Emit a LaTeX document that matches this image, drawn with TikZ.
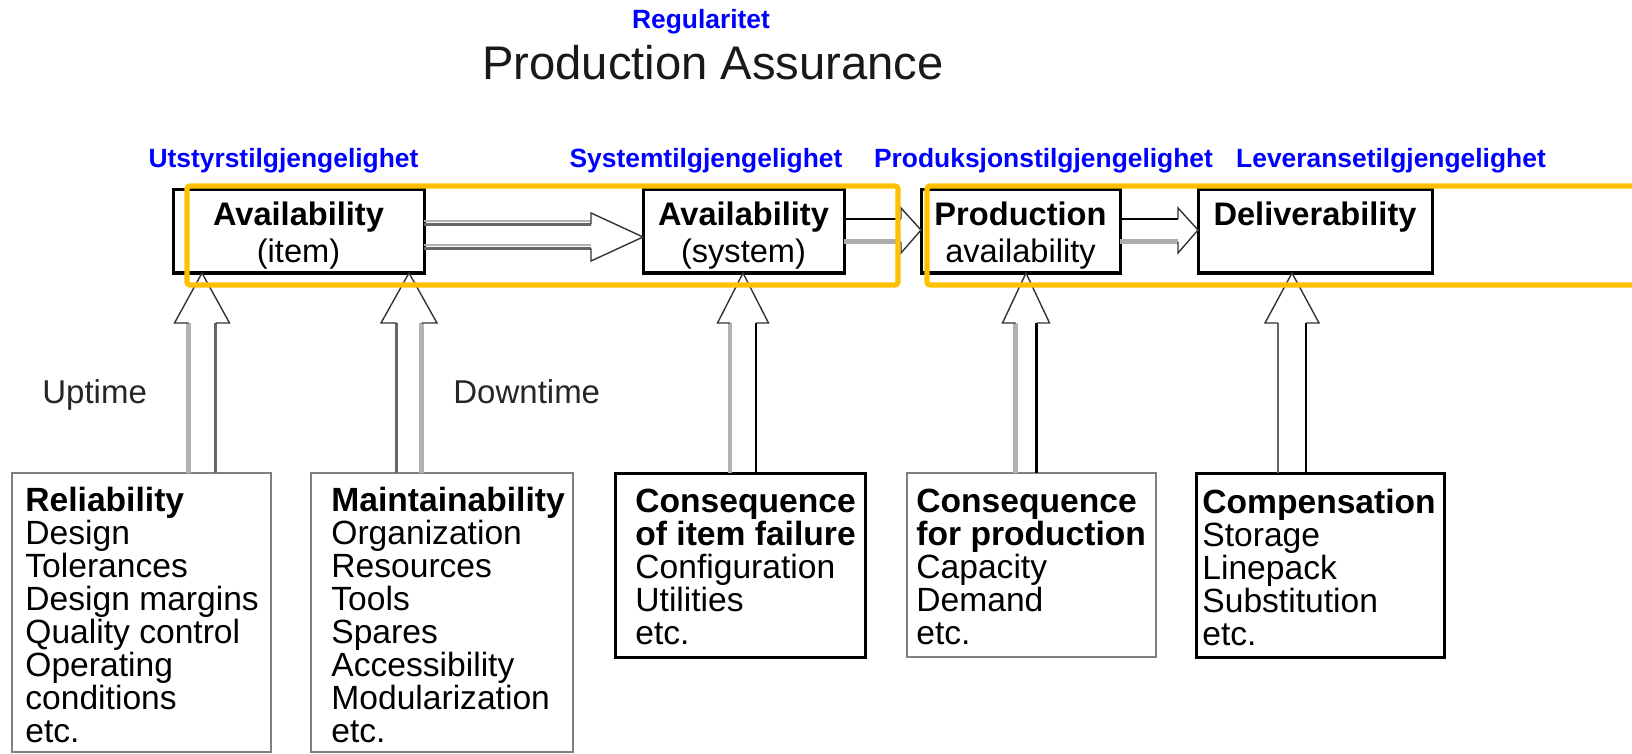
\documentclass[tikz,border=0pt]{standalone}
\usepackage{fontspec}
\setmainfont{Liberation Sans}
\usetikzlibrary{calc}
\definecolor{orng}{HTML}{FFC000}
\definecolor{lblue}{HTML}{0000FF}
\newcommand\topstrut{\rule{0pt}{16pt}}
\newcommand\hollowup[7]{%
  \coordinate (hx) at (#3,0);
  \coordinate (hb) at (#1.north -| hx);
  \coordinate (ht) at (#2.south -| hx);
  \draw[#6] ($(hb)+(-#4,0)$) -- ($(ht)+(-#4,50)$);
  \draw[#7] ($(hb)+(#4,0)$) -- ($(ht)+(#4,50)$);
  \draw[headline] ($(ht)+(-#4,50)$) -- ($(ht)+(-#5,50)$) -- (ht) -- ($(ht)+(#5,50)$) -- ($(ht)+(#4,50)$);
}
\begin{document}
\begin{tikzpicture}[x=0.5pt,y=-0.5pt,
  topbox/.style={draw=black,line width=1.5pt,inner sep=0pt,outer sep=0pt,anchor=north west,
    minimum height=41.5pt,align=center,
    font=\fontsize{16.3pt}{18.5pt}\selectfont},
  blackbox/.style={draw=black,line width=1.5pt,inner sep=0pt,outer sep=0pt,anchor=north west},
  graybox/.style={draw=black!50,line width=1.2pt,inner sep=0pt,outer sep=0pt,anchor=north west},
  listtxt/.style={inner sep=0pt,anchor=west,align=left,font=\fontsize{16.8pt}{16.5pt}\selectfont},
  bluelbl/.style={inner sep=0pt,anchor=base,text=lblue,font=\fontsize{13.2pt}{15pt}\selectfont\bfseries},
  sidelbl/.style={inner sep=0pt,anchor=base west,text=black!85,font=\fontsize{16.5pt}{18pt}\selectfont},
  headline/.style={draw=black!80,line width=0.7pt,line join=miter},
  lightline/.style={draw=black!30,line width=2.4pt},
  darkline/.style={draw=black!60,line width=1.4pt},
  blackline/.style={draw=black,line width=1.2pt},
  grayband/.style={draw=black!32,line width=2.5pt},
  orangebox/.style={draw=orng,line width=2.6pt,rounded corners=1.5pt}
]
\useasboundingbox (0,0) rectangle (1632,754);

% titles
\node[bluelbl] (reg) at (701,29) {Regularitet};
\node[inner sep=0pt,anchor=base,text=black!90,font=\fontsize{23.6pt}{26pt}\selectfont] (pas) at (713,80) {Production Assurance};
\node[bluelbl] (lu) at (283.5,168) {Utstyrstilgjengelighet};
\node[bluelbl] (ls) at (706,168) {Systemtilgjengelighet};
\node[bluelbl] (lp) at (1043.5,168) {Produksjonstilgjengelighet};
\node[bluelbl] (ll) at (1391,168) {Leveransetilgjengelighet};

% top boxes
\node[topbox,minimum width=125.5pt] (av1) at (173,190) {\topstrut\textbf{Availability}\\(item)};
\node[topbox,minimum width=100.5pt] (av2) at (643,190) {\topstrut\textbf{Availability}\\(system)};
\node[topbox,minimum width=99.5pt] (pa) at (921,190) {\topstrut\textbf{Production}\\availability};
\node[topbox,minimum width=117pt] (del) at (1198,190) {\topstrut\textbf{Deliverability}\\\vphantom{(y)}};

% bottom boxes
\node[graybox,minimum width=129.5pt,minimum height=139.5pt] (rel) at (12,473) {};
\node[graybox,minimum width=131pt,minimum height=139.5pt] (mnt) at (311,473) {};
\node[blackbox,minimum width=125pt,minimum height=92pt] (cif) at (615,473) {};
\node[graybox,minimum width=124.5pt,minimum height=92pt] (cfp) at (907,473) {};
\node[blackbox,minimum width=124pt,minimum height=92pt] (cmp) at (1196,473) {};

\node[listtxt] (reltxt) at ($(rel.west)+(13,2)$) {\textbf{Reliability}\\Design\\Tolerances\\Design margins\\Quality control\\Operating\\conditions\\etc.};
\node[listtxt] (mnttxt) at ($(mnt.west)+(20,2)$) {\textbf{Maintainability}\\Organization\\Resources\\Tools\\Spares\\Accessibility\\Modularization\\etc.};
\node[listtxt] (ciftxt) at ($(cif.west)+(20,2)$) {\textbf{Consequence}\\\textbf{of item failure}\\Configuration\\Utilities\\etc.};
\node[listtxt] (cfptxt) at ($(cfp.west)+(9,2)$) {\textbf{Consequence}\\\textbf{for production}\\Capacity\\Demand\\etc.};
\node[listtxt] (cmptxt) at ($(cmp.west)+(6,2)$) {\textbf{Compensation}\\Storage\\Linepack\\Substitution\\etc.};

% side labels
\node[sidelbl] (up) at (42,403) {Uptime};
\node[sidelbl] (down) at (453,403) {Downtime};

% vertical hollow arrows
\hollowup{rel}{av1}{202}{13.5}{27.5}{lightline}{darkline}
\hollowup{mnt}{av1}{409}{12.5}{28}{darkline}{lightline}
\hollowup{cif}{av2}{743}{13}{25.5}{lightline}{blackline}
\hollowup{cfp}{pa}{1026}{10.5}{23.5}{lightline}{blackline}
\hollowup{cmp}{del}{1292}{14}{27}{darkline}{blackline}

% horizontal arrow av1 -> av2
\coordinate (y1) at (0,237);
\coordinate (t1) at (av2.west |- y1);
\draw[lightline,line width=1.2pt] (av1.east |- 0,221) -- ($(t1)+(-52,-16)$);
\draw[darkline] (av1.east |- 0,224.5) -- ($(t1)+(-52,-12.5)$);
\draw[lightline,line width=1.2pt] (av1.east |- 0,245) -- ($(t1)+(-52,8)$);
\draw[darkline] (av1.east |- 0,248.5) -- ($(t1)+(-52,11.5)$);
\draw[headline] ($(t1)+(-52,-12.5)$) -- ($(t1)+(-52,-24)$) -- (t1) -- ($(t1)+(-52,24)$) -- ($(t1)+(-52,11.5)$);

% horizontal arrow av2 -> pa
\coordinate (y2) at (0,230);
\coordinate (t2) at (pa.west |- y2);
\draw[blackline] (av2.east |- 0,219) -- ($(t2)+(-20,-11)$);
\draw[grayband] (av2.east |- 0,242) -- ($(t2)+(-20,12)$);
\draw[headline] ($(t2)+(-20,-11)$) -- ($(t2)+(-20,-22)$) -- (t2) -- ($(t2)+(-20,23)$) -- ($(t2)+(-20,12)$);

% horizontal arrow pa -> del
\coordinate (t3) at (del.west |- y2);
\draw[blackline] (pa.east |- 0,219) -- ($(t3)+(-20,-11)$);
\draw[grayband] (pa.east |- 0,242) -- ($(t3)+(-20,12)$);
\draw[headline] ($(t3)+(-20,-11)$) -- ($(t3)+(-20,-22)$) -- (t3) -- ($(t3)+(-20,23)$) -- ($(t3)+(-20,12)$);

% orange groupings
\draw[orangebox] (187,186) rectangle (898,285);
\draw[orangebox] (927,186) rectangle (1645,285);
\end{tikzpicture}
\end{document}
